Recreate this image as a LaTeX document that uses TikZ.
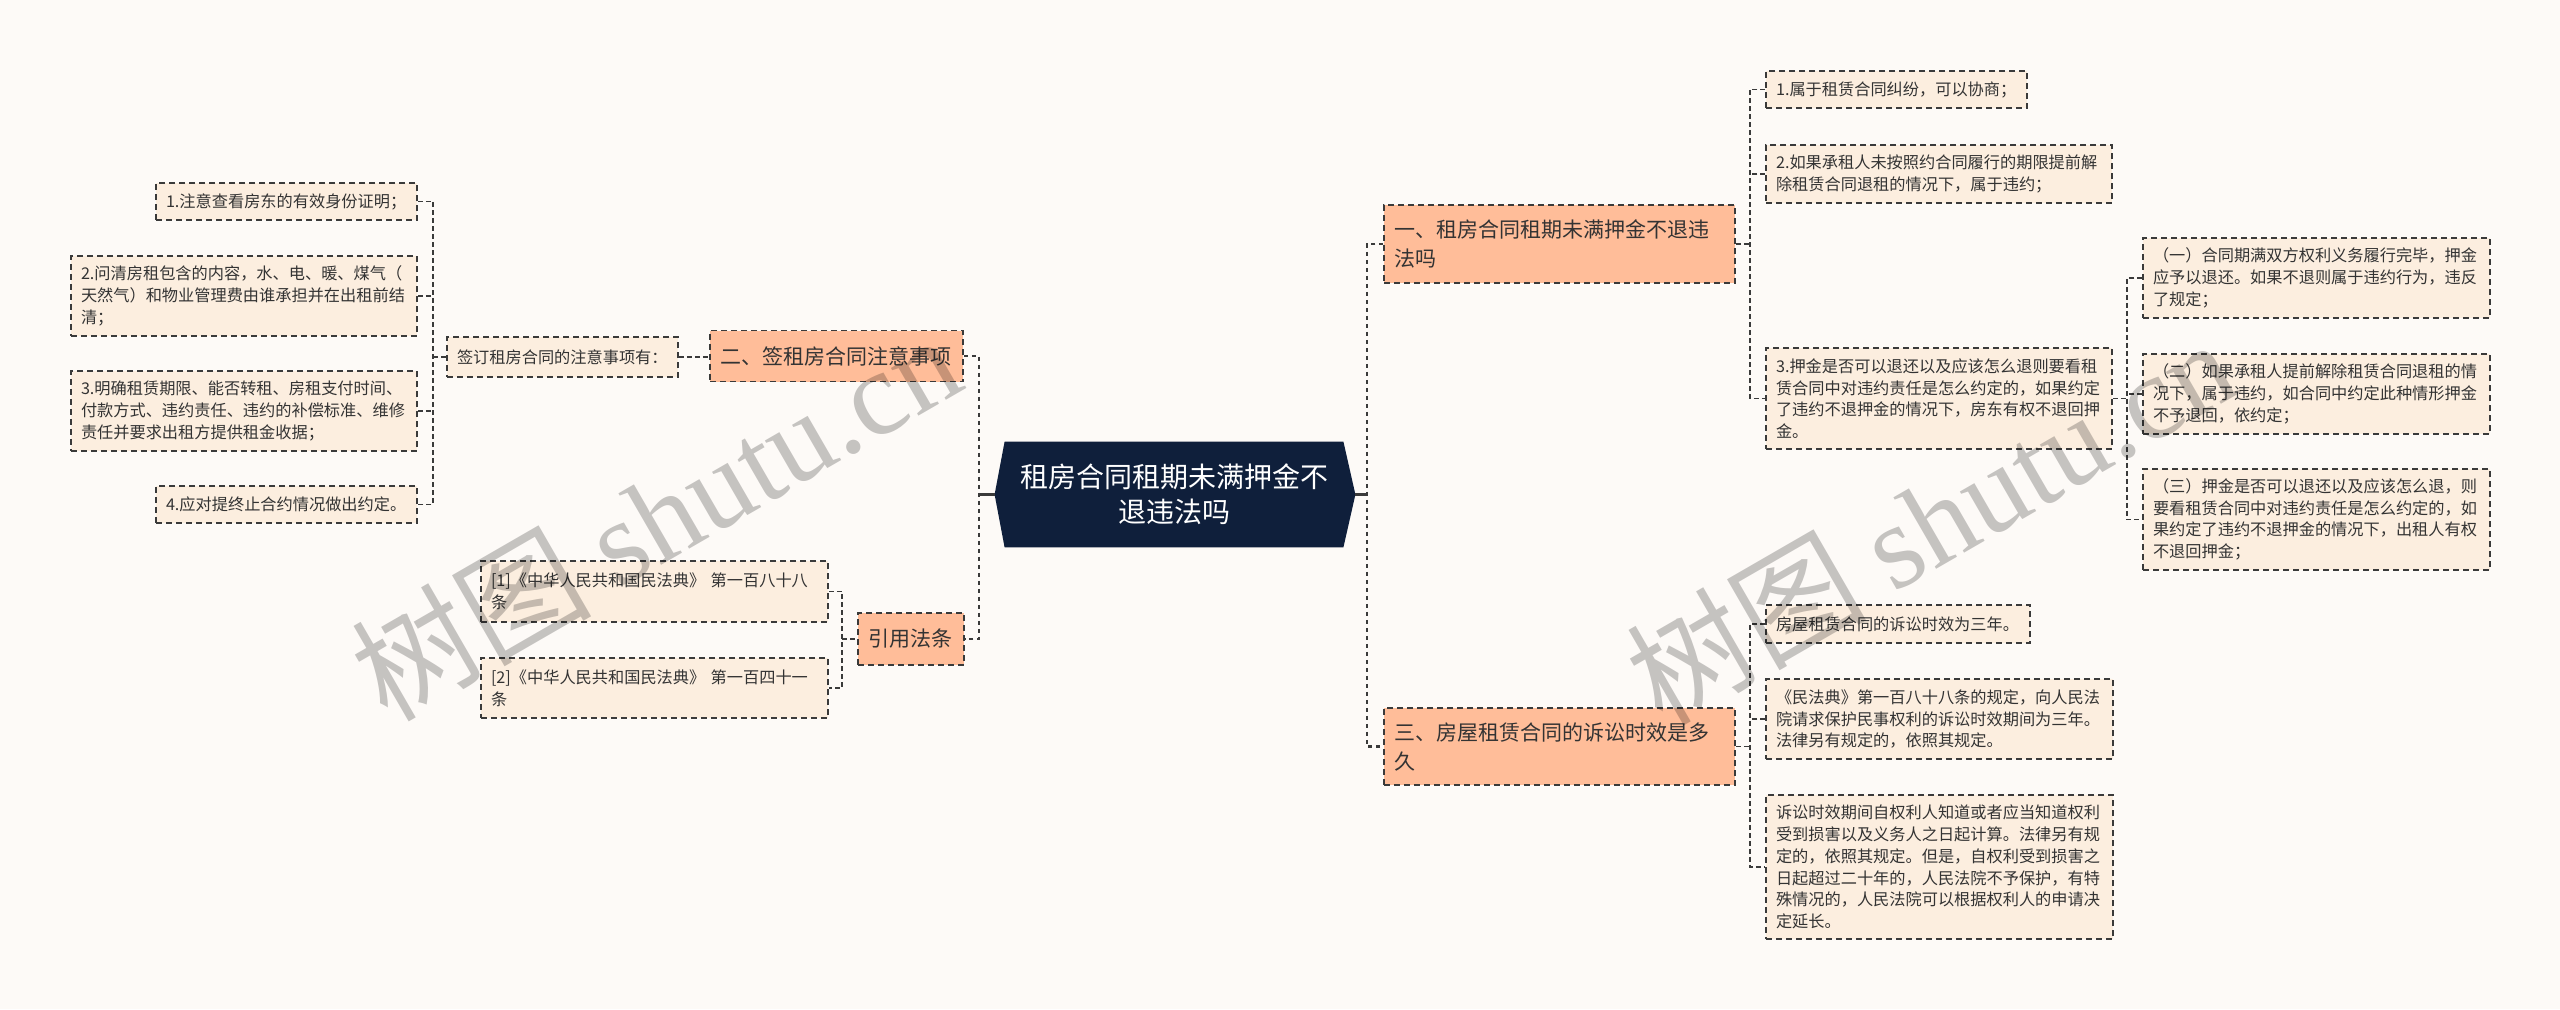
\documentclass[tikz,border=0pt]{standalone}
\usepackage{fontspec}
\setmainfont{Noto Sans CJK SC}
\newfontfamily\wmlatin{Liberation Serif}
\usetikzlibrary{backgrounds}
\definecolor{bgc}{HTML}{FDFAF7}
\definecolor{linec}{HTML}{3A3A3A}
\definecolor{txt}{HTML}{333333}
\definecolor{leaff}{HTML}{FCEEDF}
\definecolor{lvlf}{HTML}{FFBD99}
\definecolor{navy}{HTML}{0F1F3B}
\begin{document}
\begin{tikzpicture}[x=0.5pt,y=-0.5pt,
  box/.style={draw=linec, dash pattern=on 3pt off 2pt, line width=0.75pt, inner xsep=5pt, inner ysep=0pt, align=left, text=txt},
  leaf/.style={box, fill=leaff, font=\fontsize{8.1pt}{10.85pt}\selectfont},
  lvl/.style={box, fill=lvlf, font=\fontsize{10.5pt}{14.5pt}\selectfont},
  sz/.style n args={3}{minimum width=#1pt, text width=#2pt, minimum height=#3pt},
  conn/.style={draw=linec, line width=0.7pt, dash pattern=on 2.5pt off 1.5pt},
  trunk/.style={draw=linec, line width=1.2pt, dash pattern=on 2pt off 2pt},
  stub/.style={draw=linec, line width=1.2pt},
  wm/.style={rotate=30, text=black, text opacity=0.22, font=\fontsize{60pt}{60pt}\selectfont}]
\useasboundingbox (0,0) rectangle (2560,1009);

% central
\node[font=\fontsize{14pt}{17.5pt}\selectfont, text=white, align=center, minimum width=169pt, minimum height=52.5pt, inner sep=0pt] (c) at (1174,494.5) {租房合同租期未满押金不\\退违法吗};
\coordinate (cL) at ([xshift=-5pt]c.west);
\coordinate (cR) at ([xshift=6pt]c.east);

% level 1
\node[lvl, sz={175.5}{165.5}{39}] (n1) at (1559.5,244) {一、租房合同租期未满押金不退违\\法吗};
\node[lvl, sz={175.5}{165.5}{38.5}] (n3) at (1559.5,746.5) {三、房屋租赁合同的诉讼时效是多\\久};
\node[lvl, sz={126.5}{116.5}{25.5}] (n2) at (836.5,356) {二、签租房合同注意事项};
\node[lvl, sz={53}{43}{26}] (n4) at (911,639) {引用法条};

% left branch
\node[leaf, sz={115.5}{105.5}{20}] (l0) at (562.5,357) {签订租房合同的注意事项有：};
\node[leaf, sz={130.5}{120.5}{18.5}] (l1) at (286.5,201.5) {1.注意查看房东的有效身份证明；};
\node[leaf, sz={173}{163}{40}] (l2) at (244,296) {2.问清房租包含的内容，水、电、暖、煤气（\\天然气）和物业管理费由谁承担并在出租前结\\清；};
\node[leaf, sz={173}{163}{40}] (l3) at (244,411) {3.明确租赁期限、能否转租、房租支付时间、\\付款方式、违约责任、违约的补偿标准、维修\\责任并要求出租方提供租金收据；};
\node[leaf, sz={130.5}{120.5}{18.5}] (l4) at (286.5,504.5) {4.应对提终止合约情况做出约定。};

\node[leaf, sz={173.5}{163.5}{30.5}] (c1) at (654.5,591.5) {[1]《中华人民共和国民法典》~第一百八十八\\条};
\node[leaf, sz={173.5}{163.5}{30}] (c2) at (654.5,688) {[2]《中华人民共和国民法典》~第一百四十一\\条};

% right branch
\node[leaf, sz={130.5}{120.5}{18.5}] (r1) at (1896.5,89.5) {1.属于租赁合同纠纷，可以协商；};
\node[leaf, sz={173}{163}{29}] (r2) at (1939,174) {2.如果承租人未按照约合同履行的期限提前解\\除租赁合同退租的情况下，属于违约；};
\node[leaf, sz={173}{163}{50.5}] (r3) at (1939,398.5) {3.押金是否可以退还以及应该怎么退则要看租\\赁合同中对违约责任是怎么约定的，如果约定\\了违约不退押金的情况下，房东有权不退回押\\金。};
\node[leaf, sz={173.5}{163.5}{40}] (s1) at (2316.5,278) {（一）合同期满双方权利义务履行完毕，押金\\应予以退还。如果不退则属于违约行为，违反\\了规定；};
\node[leaf, sz={173.5}{163.5}{40}] (s2) at (2316.5,394) {（二）如果承租人提前解除租赁合同退租的情\\况下，属于违约，如合同中约定此种情形押金\\不予退回，依约定；};
\node[leaf, sz={173.5}{163.5}{50.5}] (s3) at (2316.5,519.5) {（三）押金是否可以退还以及应该怎么退，则\\要看租赁合同中对违约责任是怎么约定的，如\\果约定了违约不退押金的情况下，出租人有权\\不退回押金；};
\node[leaf, sz={132}{122}{19}] (t1) at (1898,624) {房屋租赁合同的诉讼时效为三年。};
\node[leaf, sz={173.5}{163.5}{40}] (t2) at (1939.5,719) {《民法典》第一百八十八条的规定，向人民法\\院请求保护民事权利的诉讼时效期间为三年。\\法律另有规定的，依照其规定。};
\node[leaf, sz={173.5}{163.5}{72}] (t3) at (1939.5,867) {诉讼时效期间自权利人知道或者应当知道权利\\受到损害以及义务人之日起计算。法律另有规\\定的，依照其规定。但是，自权利受到损害之\\日起超过二十年的，人民法院不予保护，有特\\殊情况的，人民法院可以根据权利人的申请决\\定延长。};

% background + hexagon
\begin{scope}[on background layer]
  \fill[bgc] (0,0) rectangle (2560,1009);
  \fill[navy] (c.north west) -- (c.north east) -- (cR) -- (c.south east) -- (c.south west) -- (cL) -- cycle;
\end{scope}

% bar coordinates
\coordinate (LT) at (979,0);
\coordinate (RT) at (1367,0);
\coordinate (LB) at (433,0);
\coordinate (CB) at (842,0);
\coordinate (RB) at (1750,0);
\coordinate (SB) at (2127,0);

% trunk
\draw[stub] (cL) -- (cL -| LT);
\draw[stub] (cR) -- (cR -| RT);
\draw[trunk] (n2.east) -- (n2.east -| LT) -- (n4.east -| LT) -- (n4.east);
\draw[trunk] (n1.west) -- (n1.west -| RT) -- (n3.west -| RT) -- (n3.west);

% left connectors
\draw[conn] (l0.east) -- (l0.east -| n2.west);
\draw[conn] (l1.east) -- (l1.east -| LB) -- (l4.east -| LB) -- (l4.east);
\draw[conn] (l2.east) -- (l2.east -| LB);
\draw[conn] (l3.east) -- (l3.east -| LB);
\draw[conn] (LB |- l0.west) -- (l0.west);
\draw[conn] (c1.east) -- (c1.east -| CB) -- (c2.east -| CB) -- (c2.east);
\draw[conn] (CB |- n4.west) -- (n4.west);

% right connectors
\draw[conn] (n1.east) -- (n1.east -| RB);
\draw[conn] (r1.west) -- (r1.west -| RB) -- (r3.west -| RB) -- (r3.west);
\draw[conn] (r2.west) -- (r2.west -| RB);
\draw[conn] (r3.east) -- (r3.east -| SB);
\draw[conn] (s1.west) -- (s1.west -| SB) -- (s3.west -| SB) -- (s3.west);
\draw[conn] (s2.west) -- (s2.west -| SB);
\draw[conn] (n3.east) -- (n3.east -| RB);
\draw[conn] (t1.west) -- (t1.west -| RB) -- (t3.west -| RB) -- (t3.west);
\draw[conn] (t2.west) -- (t2.west -| RB);

% watermarks
\node[wm] (wm1) at (655,516) {树图 {\wmlatin shutu.cn}};
\node[wm] (wm2) at (1930,520) {树图 {\wmlatin shutu.cn}};
\end{tikzpicture}
\end{document}
